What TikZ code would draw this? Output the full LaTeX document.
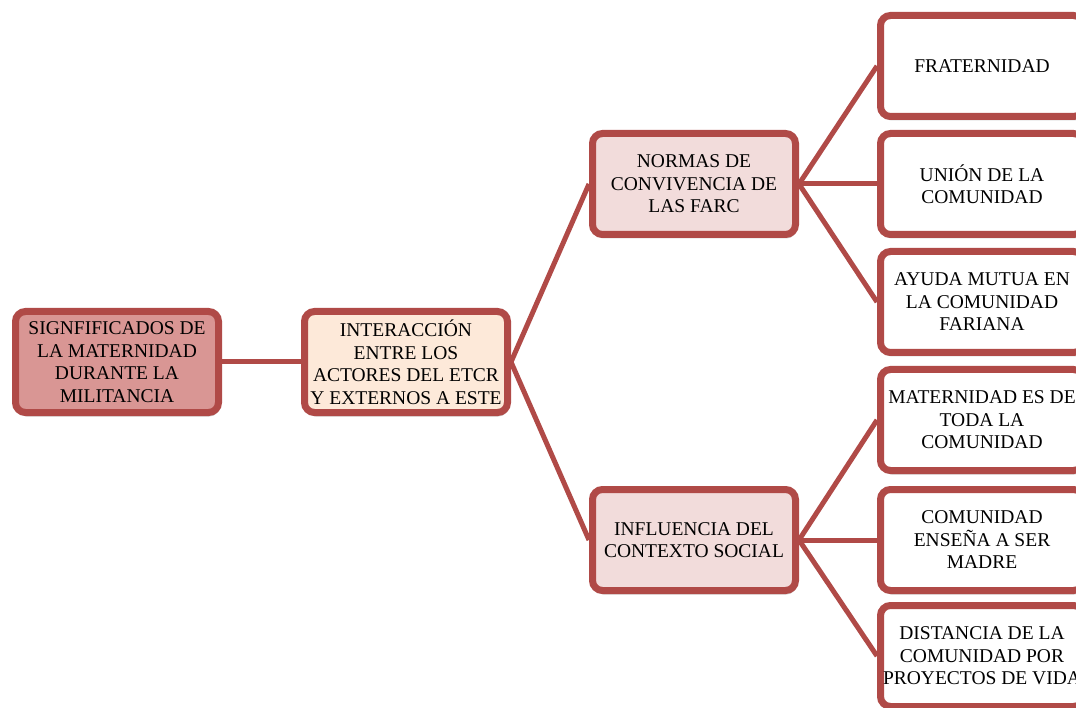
\documentclass[tikz,border=0pt]{standalone}
\usepackage{fontspec}
\setmainfont{Liberation Serif}
\usetikzlibrary{shadows,backgrounds}
\definecolor{bordc}{RGB}{176,74,71}
\definecolor{rootfill}{RGB}{217,150,148}
\definecolor{peach}{RGB}{253,233,217}
\definecolor{pinkfill}{RGB}{242,220,219}
\begin{document}
\begin{tikzpicture}[x=1pt,y=-1pt,
  box/.style={draw=bordc, line width=7pt, rounded corners=10pt,
    minimum width=203pt, minimum height=101pt, inner sep=0pt,
    align=center,
    font=\fontsize{19.5}{22.5}\selectfont,
    drop shadow={shadow xshift=1pt, shadow yshift=-4pt, opacity=0.3, fill=black!60}},
  link/.style={draw=bordc, line width=5pt}]
\useasboundingbox (0,0) rectangle (1076,708);
\node[box, fill=rootfill] (root) at (117,362) {SIGNFIFICADOS DE\\LA MATERNIDAD\\DURANTE LA\\MILITANCIA};
\node[box, fill=peach] (inter) at (406,362) {INTERACCIÓN\\ENTRE LOS\\ACTORES DEL ETCR\\Y EXTERNOS A ESTE};
\node[box, fill=pinkfill] (normas) at (694,184) {NORMAS DE\\CONVIVENCIA DE\\LAS FARC};
\node[box, fill=pinkfill] (infl) at (694,540) {INFLUENCIA DEL\\CONTEXTO SOCIAL};
\node[box, fill=white] (fra) at (982,66) {FRATERNIDAD};
\node[box, fill=white] (uni) at (982,184) {UNIÓN DE LA\\COMUNIDAD};
\node[box, fill=white] (ayu) at (982,302) {AYUDA MUTUA EN\\LA COMUNIDAD\\FARIANA};
\node[box, fill=white] (mat) at (982,420) {MATERNIDAD ES DE\\TODA LA\\COMUNIDAD};
\node[box, fill=white] (ens) at (982,540) {COMUNIDAD\\ENSEÑA A SER\\MADRE};
\node[box, fill=white] (dis) at (982,656) {DISTANCIA DE LA\\COMUNIDAD POR\\PROYECTOS DE VIDA};
\begin{pgfonlayer}{background}
\draw[link] (root.east) -- (inter.west);
\draw[link] (inter.east) -- (normas.west);
\draw[link] (inter.east) -- (infl.west);
\draw[link] (normas.east) -- (fra.west);
\draw[link] (normas.east) -- (uni.west);
\draw[link] (normas.east) -- (ayu.west);
\draw[link] (infl.east) -- (mat.west);
\draw[link] (infl.east) -- (ens.west);
\draw[link] (infl.east) -- (dis.west);
\end{pgfonlayer}
\end{tikzpicture}
\end{document}
